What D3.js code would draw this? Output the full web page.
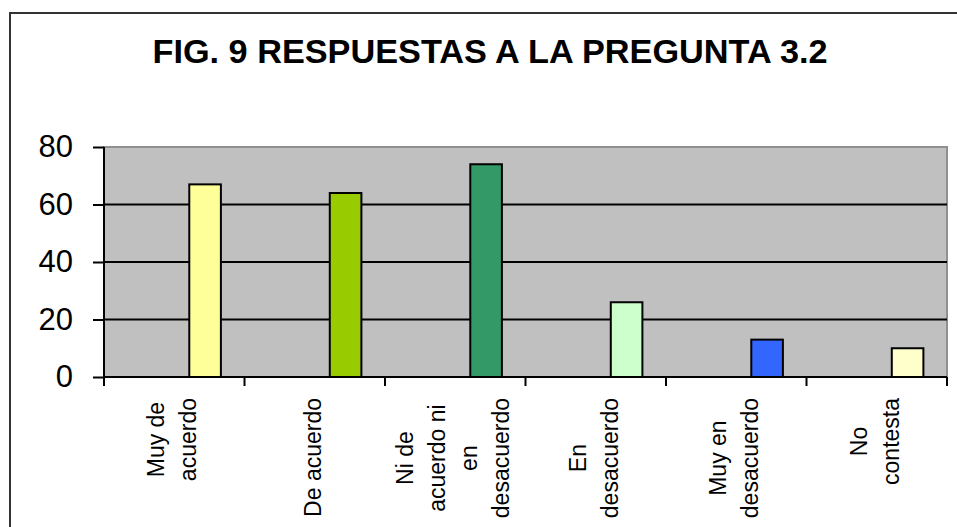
<!DOCTYPE html>
<html>
<head>
<meta charset="utf-8">
<script src="https://cdn.jsdelivr.net/npm/d3@7"></script>
<style>
  body { margin: 0; background: #fff; }
  svg { display: block; }
</style>
</head>
<body>
<svg width="957" height="527"></svg>
<script>
const categories = [
    ["Muy de", "acuerdo"],
    ["De acuerdo"],
    ["Ni de", "acuerdo ni", "en", "desacuerdo"],
    ["En", "desacuerdo"],
    ["Muy en", "desacuerdo"],
    ["No", "contesta"]
];
const values = [67, 64, 74, 26, 13, 10];
const barColors = ["#FFFF99", "#99CC00", "#339966", "#CCFFCC", "#3366FF", "#FFFFCC"];
const yTicks = [0, 20, 40, 60, 80];
const title = "FIG. 9 RESPUESTAS A LA PREGUNTA 3.2";

const svg = d3.select("svg");
const plotLeft = 104, plotTop = 147, plotRight = 947, plotBottom = 377;
const plotWidth = plotRight - plotLeft, plotHeight = plotBottom - plotTop;

// outer frame
svg.append("rect")
    .attr("x", 10).attr("y", 13)
    .attr("width", 1000).attr("height", 600)
    .attr("fill", "none")
    .attr("stroke", "#333").attr("stroke-width", 2)

// title (condensed look: big glyphs squeezed to the measured width)
svg.append("text")
    .attr("x", 490)
    .attr("y", 63)
    .attr("text-anchor", "middle")
    .attr("font-family", "'Liberation Sans Narrow', 'Liberation Sans', Arial, sans-serif")
    .attr("font-weight", "bold")
    .attr("font-size", "34px")
    .attr("textLength", 675)
    .attr("lengthAdjust", "spacingAndGlyphs")
    .text(title)

const g = svg.append("g").attr("transform", `translate(${plotLeft}, ${plotTop})`)

const x = d3.scaleBand()
    .domain(d3.range(categories.length))
    .range([0, plotWidth])

const y = d3.scaleLinear()
    .domain([0, 80])
    .range([plotHeight, 0])

// plot background
g.append("rect")
    .attr("width", plotWidth).attr("height", plotHeight)
    .attr("fill", "#C0C0C0")
    .attr("stroke", "#909090").attr("stroke-width", 2)

// gridlines
g.selectAll(".grid").data(yTicks.filter(d => d > 0 && d < 80))
    .enter().append("line")
    .attr("x1", 0).attr("x2", plotWidth)
    .attr("y1", d => y(d)).attr("y2", d => y(d))
    .attr("stroke", "#000").attr("stroke-width", 2)

// bars (sit in the right part of each band)
g.selectAll(".bar").data(values)
    .enter().append("rect")
    .attr("x", (d, i) => x(i) + x.bandwidth() * 0.607)
    .attr("width", x.bandwidth() * 0.225)
    .attr("y", d => y(d))
    .attr("height", d => plotHeight - y(d))
    .attr("fill", (d, i) => barColors[i])
    .attr("stroke", "#000").attr("stroke-width", 2)

// Y axis
const yAxis = g.append("g")
    .call(d3.axisLeft(y).tickValues(yTicks).tickSize(11).tickPadding(20))
yAxis.select(".domain").attr("stroke-width", 2).attr("d", `M0,0V${plotHeight}`)
yAxis.selectAll(".tick line").attr("stroke-width", 2)
yAxis.selectAll("text")
    .attr("font-family", "'Liberation Sans', Arial, sans-serif")
    .attr("font-size", "31px")
    .attr("fill", "#000")

// X axis
const xAxis = g.append("g").attr("transform", `translate(0, ${plotHeight})`)
xAxis.append("line")
    .attr("x1", 0).attr("x2", plotWidth)
    .attr("stroke", "#000").attr("stroke-width", 2)
xAxis.selectAll(".xtick").data(d3.range(categories.length + 1))
    .enter().append("line")
    .attr("x1", d => d * x.step()).attr("x2", d => d * x.step())
    .attr("y1", 0).attr("y2", 9)
    .attr("stroke", "#000").attr("stroke-width", 2)

// category labels, rotated, lines centred inside a top-aligned block
const lineGap = 32;
categories.forEach((lines, i) => {
    const cx = x(i) + x.bandwidth() / 2 - 2;
    const lab = g.append("g")
    const texts = lines.map((t, j) => lab.append("text")
        .attr("font-family", "'Liberation Sans', Arial, sans-serif")
        .attr("font-size", "23px")
        .attr("fill", "#000")
        .attr("text-anchor", "middle")
        .attr("dominant-baseline", "central")
        .text(t))
    const maxLen = d3.max(texts, t => t.node().getComputedTextLength())
    const top = plotHeight + 21;
    texts.forEach((t, j) => {
        const lx = cx + (j - (lines.length - 1) / 2) * lineGap;
        const ly = top + maxLen / 2;
        t.attr("transform", `translate(${lx}, ${ly}) rotate(-90)`)
    })
})
</script>
</body>
</html>
